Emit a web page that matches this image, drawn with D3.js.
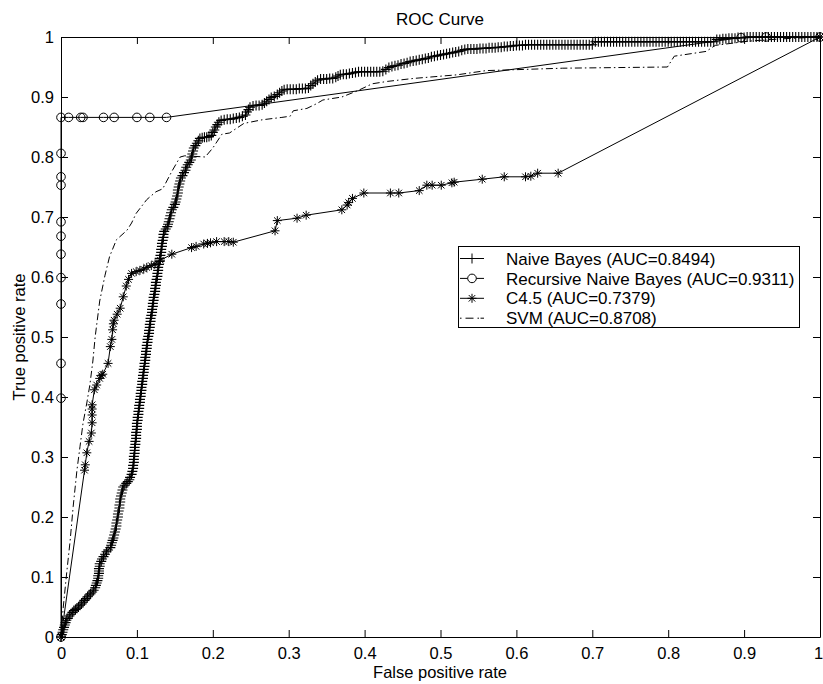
<!DOCTYPE html>
<html>
<head>
<meta charset="utf-8">
<script src="https://cdn.jsdelivr.net/npm/d3@7"></script>
<style>
body { margin: 0; background: #fff; }
svg text { font-family: "Liberation Sans", Arial, Helvetica, sans-serif; }
</style>
</head>
<body>
<svg id="chart" width="823" height="684"></svg>
<script>
/* tick values and labels */
const xTicks = [0, 0.1, 0.2, 0.3, 0.4, 0.5, 0.6, 0.7, 0.8, 0.9, 1];
const yTicks = [0, 0.1, 0.2, 0.3, 0.4, 0.5, 0.6, 0.7, 0.8, 0.9, 1];

const titleText = "ROC Curve";
const xLabel = "False positive rate";
const yLabel = "True positive rate";
const seriesNames = [
  "Naive Bayes (AUC=0.8494)",
  "Recursive Naive Bayes (AUC=0.9311)",
  "C4.5 (AUC=0.7379)",
  "SVM (AUC=0.8708)"
];

/* Naive Bayes: [fpr, tpr], one pair per marker */
const naiveBayes = [
  [0.000,0.000],[0.001,0.004],[0.002,0.008],[0.003,0.012],[0.004,0.016],[0.005,0.020],[0.006,0.024],
  [0.007,0.028],[0.009,0.031],[0.011,0.035],[0.013,0.038],[0.015,0.041],[0.017,0.044],[0.019,0.046],
  [0.021,0.048],[0.023,0.050],[0.025,0.053],[0.027,0.055],[0.029,0.058],[0.031,0.061],[0.033,0.064],
  [0.035,0.067],[0.037,0.070],[0.039,0.072],[0.041,0.075],[0.043,0.078],[0.045,0.082],[0.046,0.086],
  [0.047,0.090],[0.048,0.094],[0.049,0.098],[0.049,0.102],[0.050,0.106],[0.050,0.110],[0.050,0.114],
  [0.051,0.118],[0.051,0.122],[0.053,0.126],[0.054,0.130],[0.056,0.134],[0.058,0.138],[0.060,0.142],
  [0.062,0.145],[0.065,0.149],[0.066,0.153],[0.067,0.157],[0.068,0.161],[0.069,0.165],[0.070,0.170],
  [0.071,0.175],[0.072,0.180],[0.073,0.185],[0.073,0.190],[0.074,0.195],[0.075,0.200],[0.075,0.205],
  [0.076,0.210],[0.077,0.215],[0.077,0.220],[0.078,0.225],[0.078,0.230],[0.079,0.235],[0.080,0.240],
  [0.081,0.245],[0.082,0.250],[0.084,0.253],[0.086,0.256],[0.088,0.259],[0.090,0.262],[0.091,0.266],
  [0.093,0.271],[0.094,0.276],[0.095,0.281],[0.095,0.286],[0.096,0.291],[0.096,0.296],[0.096,0.301],
  [0.097,0.306],[0.097,0.311],[0.097,0.316],[0.098,0.321],[0.098,0.326],[0.099,0.331],[0.099,0.336],
  [0.099,0.341],[0.100,0.346],[0.100,0.351],[0.100,0.356],[0.101,0.361],[0.101,0.366],[0.102,0.371],
  [0.102,0.376],[0.103,0.381],[0.103,0.386],[0.104,0.391],[0.104,0.396],[0.105,0.401],[0.105,0.406],
  [0.106,0.411],[0.106,0.416],[0.107,0.421],[0.107,0.426],[0.108,0.431],[0.108,0.436],[0.109,0.441],
  [0.109,0.446],[0.110,0.451],[0.110,0.456],[0.111,0.461],[0.111,0.466],[0.112,0.471],[0.112,0.476],
  [0.113,0.481],[0.113,0.486],[0.114,0.491],[0.114,0.496],[0.115,0.501],[0.116,0.506],[0.116,0.511],
  [0.117,0.516],[0.117,0.521],[0.118,0.526],[0.118,0.531],[0.119,0.536],[0.120,0.541],[0.120,0.546],
  [0.121,0.551],[0.121,0.556],[0.122,0.561],[0.122,0.566],[0.123,0.571],[0.124,0.576],[0.124,0.581],
  [0.125,0.586],[0.125,0.591],[0.126,0.596],[0.127,0.601],[0.127,0.606],[0.128,0.611],[0.128,0.616],
  [0.129,0.621],[0.130,0.626],[0.130,0.631],[0.131,0.636],[0.132,0.641],[0.132,0.646],[0.133,0.651],
  [0.133,0.656],[0.134,0.661],[0.135,0.666],[0.135,0.671],[0.136,0.676],[0.138,0.680],[0.140,0.684],
  [0.141,0.688],[0.142,0.692],[0.143,0.697],[0.144,0.702],[0.145,0.707],[0.146,0.712],[0.148,0.716],
  [0.150,0.721],[0.151,0.725],[0.152,0.730],[0.153,0.735],[0.154,0.740],[0.154,0.745],[0.155,0.750],
  [0.156,0.755],[0.157,0.760],[0.158,0.765],[0.160,0.769],[0.162,0.774],[0.164,0.778],[0.165,0.783],
  [0.167,0.787],[0.169,0.791],[0.171,0.795],[0.172,0.800],[0.173,0.805],[0.174,0.810],[0.175,0.815],
  [0.177,0.819],[0.179,0.823],[0.181,0.827],[0.183,0.831],[0.186,0.832],[0.189,0.833],[0.192,0.833],
  [0.195,0.834],[0.198,0.836],[0.200,0.841],[0.202,0.845],[0.204,0.850],[0.206,0.854],[0.208,0.858],
  [0.211,0.861],[0.215,0.862],[0.219,0.863],[0.223,0.863],[0.227,0.864],[0.231,0.865],[0.235,0.866],
  [0.239,0.868],[0.243,0.870],[0.245,0.875],[0.247,0.879],[0.249,0.883],[0.253,0.885],[0.257,0.886],
  [0.261,0.886],[0.265,0.887],[0.268,0.890],[0.271,0.893],[0.274,0.896],[0.277,0.899],[0.281,0.901],
  [0.285,0.904],[0.288,0.907],[0.291,0.910],[0.294,0.912],[0.298,0.913],[0.302,0.913],[0.306,0.913],
  [0.310,0.913],[0.314,0.914],[0.318,0.914],[0.322,0.914],[0.326,0.915],[0.329,0.919],[0.332,0.922],
  [0.335,0.925],[0.338,0.928],[0.342,0.930],[0.346,0.930],[0.350,0.930],[0.354,0.931],[0.358,0.931],
  [0.362,0.933],[0.365,0.935],[0.368,0.937],[0.372,0.938],[0.376,0.938],[0.380,0.939],[0.384,0.940],
  [0.388,0.941],[0.392,0.942],[0.396,0.942],[0.400,0.942],[0.404,0.942],[0.408,0.942],[0.412,0.942],
  [0.416,0.942],[0.420,0.942],[0.424,0.943],[0.428,0.946],[0.432,0.949],[0.436,0.951],[0.440,0.952],
  [0.444,0.953],[0.448,0.955],[0.452,0.956],[0.456,0.957],[0.460,0.959],[0.464,0.960],[0.468,0.961],
  [0.472,0.962],[0.476,0.963],[0.480,0.964],[0.484,0.965],[0.488,0.967],[0.492,0.968],[0.496,0.969],
  [0.500,0.970],[0.504,0.971],[0.508,0.972],[0.512,0.973],[0.516,0.974],[0.520,0.975],[0.524,0.976],
  [0.528,0.978],[0.532,0.979],[0.536,0.980],[0.540,0.980],[0.544,0.980],[0.548,0.980],[0.552,0.981],
  [0.556,0.981],[0.560,0.981],[0.564,0.982],[0.568,0.982],[0.572,0.982],[0.576,0.983],[0.580,0.983],
  [0.584,0.984],[0.588,0.984],[0.592,0.985],[0.596,0.985],[0.600,0.986],[0.604,0.986],[0.608,0.986],
  [0.612,0.987],[0.616,0.987],[0.620,0.987],[0.624,0.987],[0.628,0.987],[0.632,0.987],[0.636,0.987],
  [0.640,0.987],[0.644,0.987],[0.648,0.987],[0.652,0.987],[0.656,0.987],[0.660,0.987],[0.664,0.987],
  [0.668,0.987],[0.672,0.987],[0.676,0.987],[0.680,0.987],[0.684,0.987],[0.688,0.987],[0.692,0.987],
  [0.696,0.987],[0.700,0.987],[0.704,0.992],[0.708,0.992],[0.712,0.992],[0.716,0.992],[0.720,0.992],
  [0.724,0.992],[0.728,0.992],[0.732,0.992],[0.736,0.992],[0.740,0.992],[0.744,0.992],[0.748,0.992],
  [0.752,0.992],[0.756,0.992],[0.760,0.992],[0.764,0.992],[0.768,0.992],[0.772,0.992],[0.776,0.992],
  [0.780,0.992],[0.784,0.992],[0.788,0.992],[0.792,0.992],[0.796,0.992],[0.800,0.992],[0.804,0.992],
  [0.808,0.992],[0.812,0.992],[0.816,0.992],[0.820,0.992],[0.824,0.992],[0.828,0.992],[0.832,0.992],
  [0.836,0.992],[0.840,0.992],[0.844,0.992],[0.848,0.992],[0.852,0.992],[0.856,0.992],[0.860,0.992],
  [0.864,0.996],[0.868,0.996],[0.872,0.997],[0.876,0.997],[0.880,0.998],[0.884,0.998],[0.888,0.998],
  [0.892,0.999],[0.896,0.999],[0.900,0.999],[0.904,1.000],[0.908,1.000],[0.912,1.000],[0.916,1.000],
  [0.920,1.000],[0.924,1.000],[0.928,1.000],[0.932,1.000],[0.936,1.000],[0.940,1.000],[0.944,1.000],
  [0.948,1.000],[0.952,1.000],[0.956,1.000],[0.960,1.000],[0.964,1.000],[0.968,1.000],[0.972,1.000],
  [0.976,1.000],[0.980,1.000],[0.984,1.000],[0.988,1.000],[0.992,1.000],[0.996,1.000],[1.000,1.000]
];

/* Recursive Naive Bayes */
const recursiveNB = [
  [0,0.000],[0,0.398],[0,0.456],[0,0.555],[0,0.599],[0,0.638],[0,0.668],[0,0.692],[0,0.753],
  [0,0.767],[0,0.806],[0,0.866],[0.010,0.866],[0.026,0.866],[0.029,0.866],[0.056,0.866],
  [0.070,0.866],[0.100,0.866],[0.117,0.866],[0.139,0.866],[0.896,0.999],[0.929,1.000],[1,1]
];

/* C4.5 */
const c45 = [
  [0,0],[0.031,0.278],[0.032,0.287],[0.034,0.307],[0.037,0.326],[0.040,0.340],[0.041,0.357],
  [0.041,0.370],[0.041,0.380],[0.041,0.387],[0.044,0.412],[0.047,0.420],[0.051,0.431],[0.053,0.436],
  [0.055,0.438],[0.062,0.456],[0.065,0.484],[0.067,0.496],[0.068,0.512],[0.069,0.522],[0.070,0.528],
  [0.074,0.538],[0.078,0.548],[0.082,0.567],[0.086,0.585],[0.089,0.596],[0.093,0.606],[0.099,0.609],
  [0.104,0.611],[0.109,0.613],[0.113,0.616],[0.119,0.619],[0.124,0.622],[0.131,0.628],[0.146,0.638],
  [0.172,0.649],[0.178,0.651],[0.188,0.655],[0.193,0.656],[0.197,0.657],[0.205,0.659],[0.215,0.659],
  [0.221,0.659],[0.227,0.658],[0.282,0.677],[0.285,0.694],[0.311,0.698],[0.323,0.703],[0.370,0.712],
  [0.377,0.720],[0.379,0.724],[0.384,0.731],[0.399,0.740],[0.434,0.740],[0.445,0.740],[0.472,0.744],
  [0.482,0.753],[0.489,0.753],[0.501,0.753],[0.515,0.757],[0.518,0.758],[0.555,0.763],[0.584,0.767],
  [0.612,0.767],[0.619,0.768],[0.628,0.773],[0.655,0.773],[1,1]
];

/* SVM */
const svm = [
  [0,0],[0.003,0.050],[0.0075,0.107],[0.012,0.160],[0.016,0.217],[0.021,0.278],[0.025,0.317],
  [0.029,0.356],[0.034,0.390],[0.038,0.420],[0.042,0.460],[0.045,0.500],[0.048,0.530],[0.051,0.560],
  [0.058,0.603],[0.064,0.634],[0.073,0.662],[0.087,0.678],[0.093,0.690],[0.099,0.706],[0.113,0.729],
  [0.125,0.742],[0.134,0.747],[0.146,0.776],[0.157,0.800],[0.163,0.802],[0.190,0.800],[0.200,0.815],
  [0.212,0.838],[0.222,0.840],[0.241,0.856],[0.265,0.862],[0.291,0.866],[0.302,0.868],[0.306,0.877],
  [0.324,0.881],[0.337,0.889],[0.345,0.895],[0.370,0.900],[0.390,0.910],[0.410,0.922],[0.430,0.926],
  [0.465,0.931],[0.522,0.937],[0.560,0.944],[0.661,0.948],[0.799,0.950],[0.808,0.968],[0.850,0.976],
  [0.862,0.986],[0.905,0.993],[0.950,0.997],[1,1]
];

var svg = d3.select("#chart");

let x = d3.scaleLinear().domain([0, 1]).range([61, 820]),
    y = d3.scaleLinear().domain([0, 1]).range([637, 37]);

let fmt = d3.format("~g");

/*AXES*/
svg.append("g")
    .attr("class", "xaxis")
    .attr("transform", "translate(0,637)")
    .call(d3.axisBottom(x).tickValues(xTicks).tickSizeInner(-7).tickSizeOuter(0)
        .tickPadding(10).tickFormat(fmt));
svg.append("g")
    .attr("transform", "translate(61,0)")
    .call(d3.axisLeft(y).tickValues(yTicks).tickSizeInner(-7).tickSizeOuter(0)
        .tickPadding(7).tickFormat(fmt));
svg.append("g")
    .attr("transform", "translate(0,37)")
    .call(d3.axisTop(x).tickValues(xTicks).tickSizeInner(-7).tickSizeOuter(0).tickFormat(""));
svg.append("g")
    .attr("transform", "translate(820,0)")
    .call(d3.axisRight(y).tickValues(yTicks).tickSizeInner(-7).tickSizeOuter(0).tickFormat(""));

svg.selectAll(".tick text")
    .attr("font-size", 16.5)
    .attr("font-family", "Liberation Sans, Arial, sans-serif")
    .attr("fill", "#000");
// last x label sits at the very edge of the window
svg.selectAll(".xaxis .tick text").filter(function(d) { return d == 1; }).attr("dx", -2);

/*TEXTS*/
svg.append("text").attr("x", 440).attr("y", 25)
    .attr("text-anchor", "middle").attr("font-size", 17).text(titleText);
svg.append("text").attr("x", 440).attr("y", 678)
    .attr("text-anchor", "middle").attr("font-size", 16.5).text(xLabel);
svg.append("text").attr("transform", "translate(25,337) rotate(-90)")
    .attr("text-anchor", "middle").attr("font-size", 16.5).text(yLabel);

/*MARKERS*/
function plusPath(s) { return "M" + (-s) + ",0H" + s + "M0," + (-s) + "V" + s; }
function starPath(s) {
    let a = s * 0.72;
    return plusPath(s) + "M" + (-a) + "," + (-a) + "L" + a + "," + a +
           "M" + (-a) + "," + a + "L" + a + "," + (-a);
}

let line = d3.line().x(function(d) { return x(d[0]); }).y(function(d) { return y(d[1]); });

let plot = svg.append("g");

function drawSeries(data, dash) {
    plot.append("path").datum(data)
        .attr("d", line)
        .attr("fill", "none")
        .attr("stroke", "#000")
        .attr("stroke-width", 1)
        .attr("stroke-dasharray", dash);
}

// naive bayes
drawSeries(naiveBayes, null);
plot.append("g").selectAll("path")
    .data(naiveBayes)
  .enter().append("path")
    .attr("transform", function(d) { return "translate(" + x(d[0]) + "," + y(d[1]) + ")"; })
    .attr("d", plusPath(5))
    .attr("stroke", "#000").attr("stroke-width", 1.1).attr("fill", "none");

// recursive naive bayes
drawSeries(recursiveNB, null);
plot.append("g").selectAll("circle")
    .data(recursiveNB)
  .enter().append("circle")
    .attr("cx", function(d) { return x(d[0]); })
    .attr("cy", function(d) { return y(d[1]); })
    .attr("r", 4.3)
    .attr("stroke", "#000").attr("stroke-width", 1).attr("fill", "none");

// c4.5
drawSeries(c45, null);
plot.append("g").selectAll("path")
    .data(c45)
  .enter().append("path")
    .attr("transform", function(d) { return "translate(" + x(d[0]) + "," + y(d[1]) + ")"; })
    .attr("d", starPath(4.5))
    .attr("stroke", "#000").attr("stroke-width", 1).attr("fill", "none");

// svm
drawSeries(svm, "7,3,1.5,3");

/*LEGEND*/
let legend = svg.append("g");
legend.append("rect")
    .attr("x", 458.5).attr("y", 246.5).attr("width", 341).attr("height", 81)
    .attr("fill", "#fff").attr("stroke", "#000").attr("stroke-width", 1);

let rows = legend.selectAll("g.row")
    .data(seriesNames)
  .enter().append("g")
    .attr("class", "row")
    .attr("transform", function(d, i) { return "translate(0," + (258.5 + i * 19.9) + ")"; });

rows.append("line")
    .attr("x1", 460).attr("x2", 484).attr("y1", 0).attr("y2", 0)
    .attr("stroke", "#000")
    .attr("stroke-width", 1)
    .attr("stroke-dasharray", function(d, i) { return i == 3 ? "1.5,4,8,4,1.5" : null; });

rows.filter(function(d, i) { return i == 0; }).append("path")
    .attr("transform", "translate(472,0)").attr("d", plusPath(5))
    .attr("stroke", "#000").attr("fill", "none");
rows.filter(function(d, i) { return i == 1; }).append("circle")
    .attr("cx", 472).attr("cy", 0).attr("r", 4.3)
    .attr("stroke", "#000").attr("fill", "#fff");
rows.filter(function(d, i) { return i == 2; }).append("path")
    .attr("transform", "translate(472,0)").attr("d", starPath(4.5))
    .attr("stroke", "#000").attr("fill", "none");

rows.append("text")
    .attr("x", 506).attr("y", 0).attr("dy", "0.36em")
    .attr("font-size", 17)
    .text(function(d) { return d; });
</script>
</body>
</html>
